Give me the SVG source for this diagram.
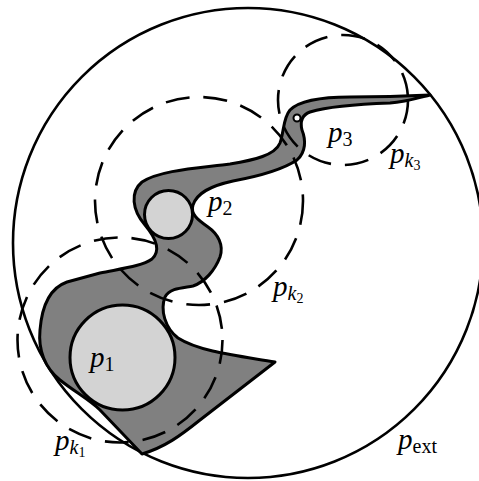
<svg xmlns="http://www.w3.org/2000/svg" width="479" height="481" viewBox="0 0 479 481">
<style>
.ln{fill:none;stroke:#000;stroke-width:2.6}
.dash{fill:none;stroke:#000;stroke-width:2.6;stroke-dasharray:24 14}
.blob{fill:#808080;stroke:#000;stroke-width:3;stroke-linejoin:round}
.hole{fill:#d3d3d3;stroke:#000;stroke-width:3}
.lbl{font-family:"Liberation Serif","DejaVu Serif",serif;font-size:29px;font-style:italic;fill:#000}
.sub{font-size:20px}
.up{font-style:normal}
</style>
<rect width="479" height="481" fill="#fff"/>
<g id="outer"><circle class="ln" cx="248" cy="243" r="235"/></g>
<g id="region">
<path class="blob" d="M142,454 C165,447 180,436 200,420 L275,362 C240,356 200,352 178,338 C165,328 160,310 165,297 C170,288 182,288 193,286 C205,282 215,270 220,257 C224,245 218,234 208,227 C198,220 190,214 193,205 C197,193 210,186 233,181 C260,176 285,168 297,160 C306,152 306,140 302,130 C300,122 302,115 310,112 C330,106 360,104 390,103 C405,102 418,98 430,95 C410,96 380,97 350,97 C325,97 300,100 290,110 C283,118 284,132 280,143 C275,155 255,160 230,164 C200,168 160,170 142,182 C130,192 132,210 145,225 C155,237 162,250 152,259 C142,266 125,268 100,273 L67,282 C50,288 42,305 40,330 C38,350 45,368 60,380 C75,392 90,400 100,410 Z"/>
</g>
<g id="p1"><circle class="hole" cx="122.5" cy="357.5" r="52.5"/></g>
<g id="p2"><circle class="hole" cx="168.5" cy="214.5" r="24"/></g>
<g id="p3"><circle cx="297" cy="118" r="3.5" fill="#fff" stroke="#000" stroke-width="2"/></g>
<g id="k1"><circle class="dash" cx="120" cy="340" r="102.5"/></g>
<g id="k2"><circle class="dash" cx="199" cy="201" r="104"/></g>
<g id="k3"><circle class="dash" cx="343" cy="100" r="65"/></g>
<g id="labels">
<text class="lbl" x="90" y="367">p<tspan class="sub up" dy="4">1</tspan></text>
<text class="lbl" x="208" y="211">p<tspan class="sub up" dy="4">2</tspan></text>
<text class="lbl" x="328" y="142">p<tspan class="sub up" dy="4">3</tspan></text>
<text class="lbl" x="390" y="163">p<tspan class="sub" dy="4">k</tspan><tspan class="up" font-size="14" dy="3">3</tspan></text>
<text class="lbl" x="273" y="296">p<tspan class="sub" dy="4">k</tspan><tspan class="up" font-size="14" dy="3">2</tspan></text>
<text class="lbl" x="55" y="450">p<tspan class="sub" dy="4">k</tspan><tspan class="up" font-size="14" dy="3">1</tspan></text>
<text class="lbl" x="398" y="449">p<tspan class="sub up" dy="4">ext</tspan></text>
</g>
</svg>
